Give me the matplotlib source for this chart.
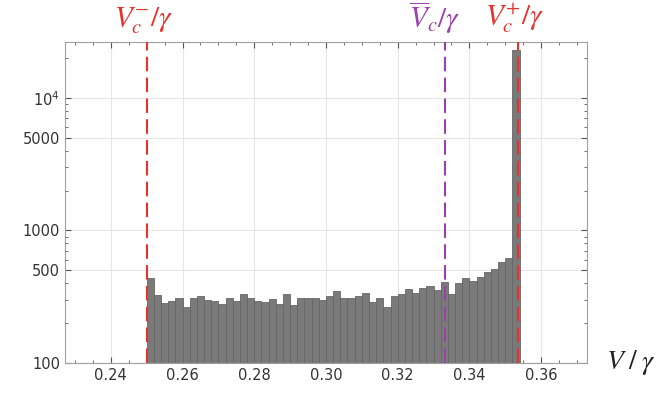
import numpy as np
import matplotlib
matplotlib.use("Agg")
import matplotlib.pyplot as plt
from matplotlib.ticker import FixedLocator, NullFormatter, MultipleLocator

# histogram data (bins of width 0.002 starting at 0.25)
bin_start = 0.25
bin_width = 0.002
counts = [438, 325, 284, 294, 307, 265, 312, 319, 301, 294,
          281, 307, 294, 329, 307, 294, 287, 303, 281, 334,
          273, 307, 312, 307, 301, 321, 348, 307, 307, 321,
          340, 289, 312, 265, 321, 334, 364, 340, 371, 383,
          354, 409, 334, 402, 438, 414, 446, 486, 509, 578,
          619, 23160]

v_minus = 0.25
v_bar = 1 / 3
v_plus = np.sqrt(2) / 4

x_ticks = [0.24, 0.26, 0.28, 0.30, 0.32, 0.34, 0.36]
y_ticks = [100, 500, 1000, 5000, 10000]
y_labels = ["100", "500", "1000", "5000", r"$\mathdefault{10^4}$"]

plt.rcParams['mathtext.fontset'] = 'stix'

edges = bin_start + bin_width * np.arange(len(counts) + 1)

fig = plt.figure(figsize=(6.59, 3.96), dpi=100)
ax = fig.add_axes([0.0986, 0.0833, 0.7921, 0.8107])

ax.hist(edges[:-1], bins=edges, weights=counts, log=True,
        color='#7a7a7a', edgecolor='#666666', linewidth=0.6, zorder=2)

ax.set_xlim(0.2272, 0.3728)
ax.set_ylim(100, 26400)

red = '#e8332c'
purple = '#9a3fae'
dash = (0, (7, 3))
ax.axvline(v_minus, color=red, ls=dash, lw=1.5, zorder=3)
ax.axvline(v_plus, color=red, ls=dash, lw=1.5, zorder=3)
ax.axvline(v_bar, color=purple, ls=dash, lw=1.5, zorder=3)

ax.set_xticks(x_ticks)
ax.set_xticklabels([f"{t:.2f}" for t in x_ticks])
ax.xaxis.set_minor_locator(MultipleLocator(0.005))
ax.yaxis.set_major_locator(FixedLocator(y_ticks))
ax.set_yticklabels(y_labels)
minor_y = [v * 10 ** k for k in range(2, 5) for v in range(2, 10) if v != 5]
ax.yaxis.set_minor_locator(FixedLocator(minor_y))
ax.yaxis.set_minor_formatter(NullFormatter())

ax.grid(True, which='major', color='#e6e6e6', lw=0.8, zorder=0)
ax.set_axisbelow(True)

ax.tick_params(which='both', direction='in', top=True, right=True,
               color='#555555', labelsize=10.5, labelcolor='#333333')
ax.tick_params(which='major', length=4)
ax.tick_params(which='minor', length=2.5)
for s in ax.spines.values():
    s.set_color('#a0a0a0')

tr = ax.get_xaxis_transform()
ax.text(v_minus - 0.0008, 1.02, r"$V_c^{-}/\gamma$", color=red, fontsize=21,
        ha='center', va='bottom', transform=tr)
ax.text(v_bar - 0.003, 1.02, r"$\overline{V}_c/\gamma$", color=purple,
        fontsize=21, ha='center', va='bottom', transform=tr)
ax.text(v_plus - 0.001, 1.02, r"$V_c^{+}/\gamma$", color=red, fontsize=21,
        ha='center', va='bottom', transform=tr)

fig.text(0.957, 0.085, r"$V\;/\;\gamma$", fontsize=20, ha='center',
         va='center', color='#222222')

fig.savefig("out.png", dpi=100)
